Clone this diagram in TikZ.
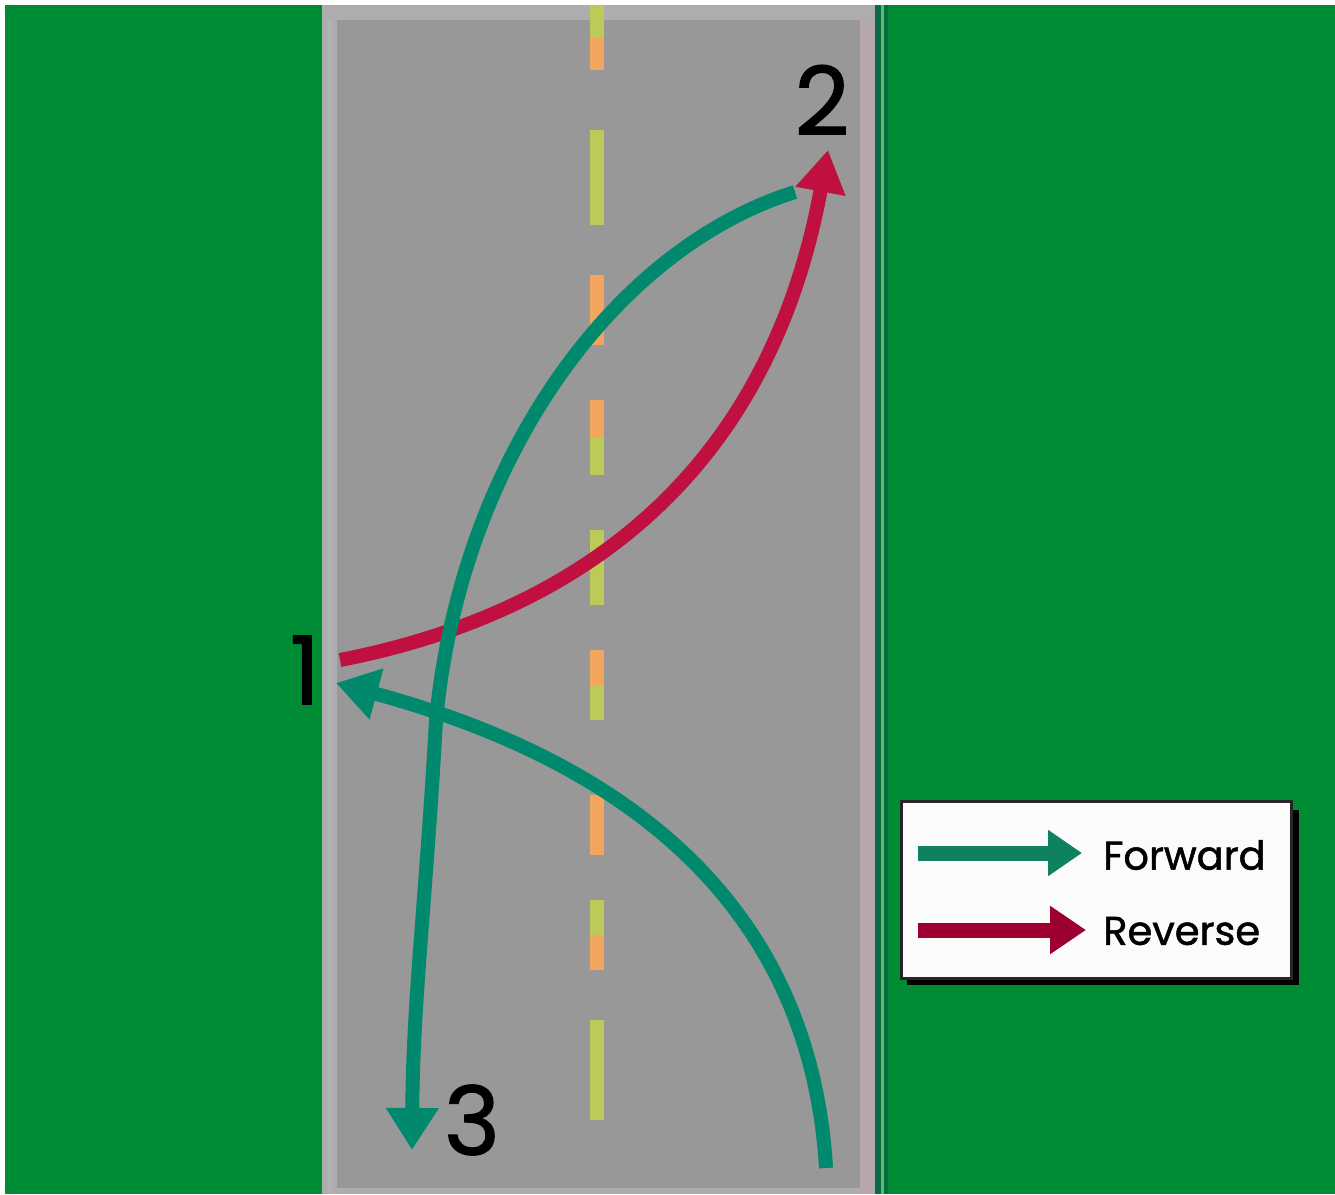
\documentclass[tikz,border=0pt]{standalone}
\usepackage{fontspec}
\setmainfont{Poppins}
\newfontfamily\heavyfont[FakeBold=1.3]{Poppins}
\usetikzlibrary{arrows.meta}
\definecolor{grass}{HTML}{008C35}
\definecolor{asphalt}{HTML}{989898}
\definecolor{edgelight}{HTML}{ADADAD}
\definecolor{edgepink}{HTML}{B5A7AB}
\definecolor{curbgreen}{HTML}{0B6A45}
\definecolor{dashorange}{HTML}{F2A55C}
\definecolor{dashyellow}{HTML}{BDCA58}
\definecolor{fwd}{HTML}{00896C}
\definecolor{rev}{HTML}{C0103F}
\definecolor{revdark}{HTML}{9C0031}
\definecolor{fwdlegend}{HTML}{0F8060}
\tikzset{
  fwdarrow/.style={draw=fwd, line width=14pt, -{Triangle[length=42pt,width=50pt]}},
  revarrow/.style={draw=rev, line width=14pt, -{Triangle[length=42pt,width=48pt]}},
  digit/.style={font=\heavyfont\fontsize{95}{95}\selectfont, text=black, inner sep=0pt},
  legtext/.style={font=\heavyfont\fontsize{40}{40}\selectfont, text=black, anchor=west, inner sep=0pt},
}
\begin{document}
\begin{tikzpicture}[x=1pt,y=-1pt]
\useasboundingbox (0,0) rectangle (1335,1194);
% background
\fill[white] (0,0) rectangle (1335,1194);
\fill[grass] (5,5) rectangle (1335,1194);
% road
\fill[edgelight] (322,5) rectangle (877,1194);
\fill[asphalt] (337,20) rectangle (860,1188);
\fill[edgepink] (860,20) rectangle (874,1194);
\fill[black!30] (327,20) rectangle (332,1194);
\fill[curbgreen] (875,5) rectangle (888,1194);
\fill[curbgreen!60!green!70!white] (881,5) rectangle (884,1194);
% centre dashes (top part / bottom part colours)
\foreach \ya/\yb/\ca/\cb in {5/70/dashyellow/dashorange, 130/225/dashyellow/dashyellow,
  275/345/dashorange/dashorange, 400/475/dashorange/dashyellow, 530/605/dashyellow/dashyellow,
  650/720/dashorange/dashyellow, 795/855/dashorange/dashorange, 900/970/dashyellow/dashorange,
  1020/1120/dashyellow/dashyellow}{
  \fill[\ca] (590,\ya) rectangle (604,{(\ya+\yb)/2});
  \fill[\cb] (590,{(\ya+\yb)/2}) rectangle (604,\yb);
}
% labels
\node[digit] (n1) at (305,670) {1};
\node[digit] (n2) at (822,100) {2};
\node[digit] (n3) at (472,1120) {3};
% connector end points
\coordinate (p1r) at (340,660);
\coordinate (p2tip) at (828,150);
\coordinate (p2f) at (795,192);
\coordinate (p3tip) at (412,1150);
\coordinate (pstart) at (826,1168);
\coordinate (p1tip) at (336,683);
% forward: bottom right to 1
\draw[fwdarrow] (pstart) .. controls (810,900) and (620,760) .. (p1tip);
% reverse: 1 to 2
\draw[revarrow] (p1r) .. controls (520,625) and (760,520) .. (p2tip);
% forward: 2 to 3
\draw[fwdarrow] (p2f) .. controls (610,250) and (460,465) .. (436,720)
  .. controls (426,900) and (413,1000) .. (p3tip);
% legend
\fill[black] (907,810) rectangle (1299,985);
\node[draw=black!85, line width=3pt, fill=white!97!gray, minimum width=390pt, minimum height=177pt,
  inner sep=0pt, anchor=north west] (legend) at (900,800) {};
\coordinate (lf1) at (918,853);
\coordinate (lf2) at (1082,853);
\coordinate (lr1) at (918,930);
\coordinate (lr2) at (1086,930);
\draw[draw=fwdlegend, line width=15pt, -{Triangle[length=34pt,width=44pt]}] (lf1) -- (lf2);
\draw[draw=revdark, line width=15pt, -{Triangle[length=36pt,width=46pt]}] (lr1) -- (lr2);
\node[legtext] (lfwd) at (1103,855) {Forward};
\node[legtext] (lrev) at (1103,931) {Reverse};
\end{tikzpicture}
\end{document}
